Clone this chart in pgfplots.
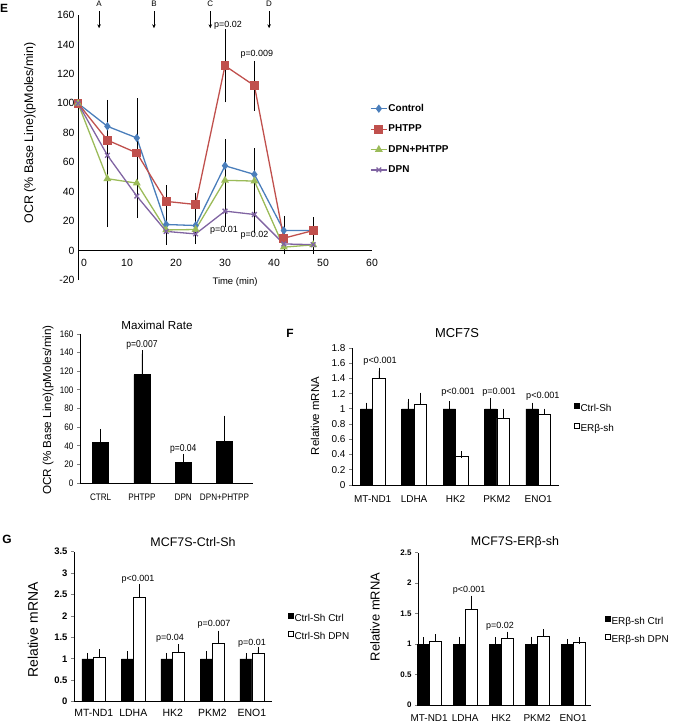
\documentclass[border=0pt]{standalone}
\usepackage{fontspec}
\setmainfont{Liberation Sans}
\newfontfamily\narrowfont[FakeStretch=0.86]{Liberation Sans}
\usepackage{pgfplots}
\pgfplotsset{compat=1.18}
\usetikzlibrary{arrows.meta}
\definecolor{cBlue}{RGB}{74,126,187}
\definecolor{cRed}{RGB}{192,80,77}
\definecolor{cGreen}{RGB}{155,187,89}
\definecolor{cPurple}{RGB}{128,100,162}
\pgfplotsset{/pgf/number format/assume math mode=true}
\newcommand{\fs}[1]{\fontsize{#1}{#1}\selectfont}
\pgfplotsset{
  ebar/.style={error bars/.cd, y dir=plus, y explicit,
    error bar style={black, line width=0.8pt},
    error mark options={black, line width=0.8pt, mark size=3.3bp}},
  eline/.style={error bars/.cd, y dir=both, y explicit,
    error bar style={black, line width=0.5pt},
    error mark options={black, line width=0.5pt, mark size=2.8bp}},
  barax/.style={anchor=south west, scale only axis, clip=false,
    axis x line*=bottom, axis y line*=left, ymin=0,
    tick align=outside, major tick length=3bp, xtick style={draw=none},
    axis line style={line width=0.8pt}, ytick style={line width=0.8pt},
    legend cell align=left,
    legend style={draw=none, fill=none, font=\fs{10}, row sep=6.5bp, inner sep=0pt, nodes={inner sep=1bp}}},
  sqleg/.style={legend image code/.code={\draw[##1, line width=0.4pt] (0bp,0.4bp) rectangle (5bp,5.4bp);}},
  blk/.style={fill=black, draw=black, line width=0.5pt},
  wht/.style={fill=white, draw=black, line width=0.8pt},
}
\begin{document}
\begin{tikzpicture}
\path[use as bounding box] (0,0) rectangle (675bp,-723bp);

% ---------------- Panel E ----------------
\begin{axis}[at={(78bp,-280bp)}, anchor=south west, scale only axis,
  width=294bp, height=265bp, xmin=0, xmax=60, ymin=-20, ymax=160,
  axis x line*=middle, axis y line*=left, clip=false,
  xtick={0,10,...,60}, ytick={-20,0,20,...,160},
  xticklabels={{\hspace*{12bp}0},10,20,30,40,50,60},
  hide obscured x ticks=false, hide obscured y ticks=false,
  tick style={draw=none}, tick label style={font=\fs{10.5}},
  xticklabel style={yshift=-5bp},
  axis line style={line width=0.9pt},
  legend cell align=left,
  legend image code/.code={\draw[mark repeat=2,mark phase=2,#1] plot coordinates {(0bp,0bp) (8bp,0bp) (16bp,0bp)};},
  legend style={at={(0.983,0.675)}, anchor=north west, draw=none, fill=none,
    font=\bfseries\fs{10}, row sep=10bp, nodes={inner sep=1bp}}]
\addplot[color=cBlue, line width=1.3pt, mark=diamond*, mark size=3.2bp, eline]
  coordinates {(0,100)+-(0,0) (6,84.4)+-(0,16) (12,76.5)+-(0,25) (18,17.7)+-(0,8) (24,17)+-(0,8) (30,57.6)+-(0,16) (36,51.7)+-(0,16) (42,13.6)+-(0,8) (48,13.6)+-(0,6)};
\addlegendentry{Control}
\addplot[color=cRed, line width=1.3pt, mark=square*, mark size=3.8bp, eline]
  coordinates {(0,100)+-(0,0) (6,75)+-(0,15) (12,66.3)+-(0,20) (18,33.4)+-(0,9) (24,31.3)+-(0,6) (30,125.5)+-(0,23) (36,112)+-(0,15) (42,8.4)+-(0,8) (48,13.6)+-(0,7)};
\addlegendentry{PHTPP}
\addplot[color=cGreen, line width=1.3pt, mark=triangle*, mark size=3.3bp, eline]
  coordinates {(0,100)+-(0,0) (6,48.8)+-(0,31) (12,45.8)+-(0,20) (18,14)+-(0,8) (24,14.3)+-(0,6) (30,47.7)+-(0,22) (36,47.2)+-(0,18) (42,2.3)+-(0,3) (48,3.9)+-(0,4)};
\addlegendentry{DPN+PHTPP}
\addplot[color=cPurple, line width=1.3pt, mark=x, mark size=3.3bp, eline]
  coordinates {(0,100)+-(0,0) (6,64.7)+-(0,22) (12,37)+-(0,13) (18,13)+-(0,7) (24,11.3)+-(0,5) (30,26.8)+-(0,9) (36,24.5)+-(0,11) (42,4.5)+-(0,3) (48,4)+-(0,4)};
\addlegendentry{DPN}
\draw[-{Stealth[length=4bp,width=3.5bp]}, line width=0.7pt] (axis cs:4.3,162.5) -- (axis cs:4.3,151);
\draw[-{Stealth[length=4bp,width=3.5bp]}, line width=0.7pt] (axis cs:15.5,162.5) -- (axis cs:15.5,151);
\draw[-{Stealth[length=4bp,width=3.5bp]}, line width=0.7pt] (axis cs:27,162.5) -- (axis cs:27,151);
\draw[-{Stealth[length=4bp,width=3.5bp]}, line width=0.7pt] (axis cs:39,162.5) -- (axis cs:39,151);
\node[font=\fs{8}] at (axis cs:4.3,167.3) {A};
\node[font=\fs{8}] at (axis cs:15.5,167.3) {B};
\node[font=\fs{8}] at (axis cs:27,167.3) {C};
\node[font=\fs{8}] at (axis cs:39,167.3) {D};
\node[font=\fs{9}] at (axis cs:30.6,153) {p=0.02};
\node[font=\fs{9}] at (axis cs:36.5,133) {p=0.009};
\node[font=\fs{9}] at (axis cs:29.8,14) {p=0.01};
\node[font=\fs{9}] at (axis cs:36,10.6) {p=0.02};
\end{axis}
\node[font=\bfseries\fs{12}] at (4bp,-8bp) {E};
\node[rotate=90, font=\fs{12.5}] at (30bp,-133bp) {OCR (\% Base Line)(pMoles/min)};
\node[font=\fs{9.5}] at (235bp,-282bp) {Time (min)};

% ---------------- Maximal Rate ----------------
\begin{axis}[barax, at={(80bp,-483bp)}, width=173bp, height=149bp,
  xmin=0.5, xmax=4.69, ymax=160, ytick={0,20,...,160},
  xtick={1,2,3,4}, xticklabels={CTRL,PHTPP,DPN,DPN+PHTPP},
  tick label style={font=\narrowfont\fs{9.5}}, xticklabel style={yshift=-4bp},
  ybar, bar width=16bp]
\addplot[blk, ebar] coordinates {(1,43.6)+-(0,11) (2,116.5)+-(0,22.5) (3,22.3)+-(0,5.5) (4,44.4)+-(0,24.5)};
\node[font=\narrowfont\fs{10}] at (axis cs:2,148) {p=0.007};
\node[font=\narrowfont\fs{10}] at (axis cs:3,36.5) {p=0.04};
\end{axis}
\node[font=\fs{11.7}] at (157bp,-325bp) {Maximal Rate};
\node[rotate=90, font=\fs{11.7}] at (48bp,-410bp) {OCR (\% Base Line)(pMoles/min)};

% ---------------- Panel F ----------------
\begin{axis}[barax, at={(352bp,-485bp)}, width=207bp, height=137bp,
  xmin=0.5, xmax=5.5, ymax=1.8, ytick={0,0.2,0.4,0.6,0.8,1,1.2,1.4,1.6,1.8},
  xtick={1,...,5}, xticklabels={MT-ND1,LDHA,HK2,PKM2,ENO1},
  tick label style={font=\fs{10}}, xticklabel style={yshift=-4bp},
  ybar=0pt, bar width=12.4bp, sqleg,
  legend style={at={(1.072,0.60)}, anchor=north west, row sep=9bp}]
\addplot[blk, ebar] coordinates {(1,1.0)+-(0,0.04) (2,1.0)+-(0,0.09) (3,1.0)+-(0,0.06) (4,1.0)+-(0,0.1) (5,1.0)+-(0,0.04)};
\addlegendentry{Ctrl-Sh}
\addplot[wht, ebar] coordinates {(1,1.4)+-(0,0.1) (2,1.06)+-(0,0.11) (3,0.37)+-(0,0.03) (4,0.88)+-(0,0.08) (5,0.93)+-(0,0.03)};
\addlegendentry{ERβ-sh}
\node[font=\fs{9.2}] at (axis cs:1.18,1.62) {p<0.001};
\node[font=\fs{9.2}] at (axis cs:3.06,1.22) {p<0.001};
\node[font=\fs{9.2}] at (axis cs:4.05,1.22) {p=0.001};
\node[font=\fs{9.2}] at (axis cs:5.11,1.16) {p<0.001};
\end{axis}
\node[font=\bfseries\fs{12}] at (290bp,-333bp) {F};
\node[font=\fs{13}] at (457bp,-333bp) {MCF7S};
\node[rotate=90, font=\fs{11.5}] at (315bp,-416bp) {Relative mRNA};

% ---------------- Panel G left ----------------
\begin{axis}[barax, at={(74bp,-701.7bp)}, width=197.7bp, height=150bp,
  xmin=0.5, xmax=5.5, ymax=3.5, ytick={0,0.5,1,1.5,2,2.5,3,3.5},
  xtick={1,...,5}, xticklabels={MT-ND1,LDHA,HK2,PKM2,ENO1},
  yticklabel style={font=\bfseries\fs{9.5}}, xticklabel style={font=\fs{10.5}, yshift=-1bp},
  ybar=0pt, bar width=12bp, sqleg,
  legend style={at={(1.082,0.59)}, anchor=north west}]
\addplot[blk, ebar] coordinates {(1,1.0)+-(0,0.06) (2,1.0)+-(0,0.1) (3,1.0)+-(0,0.06) (4,1.0)+-(0,0.11) (5,1.0)+-(0,0.05)};
\addlegendentry{Ctrl-Sh Ctrl}
\addplot[wht, ebar] coordinates {(1,1.04)+-(0,0.11) (2,2.43)+-(0,0.24) (3,1.14)+-(0,0.12) (4,1.37)+-(0,0.21) (5,1.12)+-(0,0.09)};
\addlegendentry{Ctrl-Sh DPN}
\node[font=\fs{9}] at (axis cs:2.12,2.86) {p<0.001};
\node[font=\fs{9}] at (axis cs:2.93,1.49) {p=0.04};
\node[font=\fs{9}] at (axis cs:4.04,1.81) {p=0.007};
\node[font=\fs{9}] at (axis cs:5.0,1.37) {p=0.01};
\end{axis}
\node[font=\bfseries\fs{12}] at (7bp,-539bp) {G};
\node[font=\fs{12.5}] at (193bp,-542bp) {MCF7S-Ctrl-Sh};
\node[rotate=90, font=\fs{14}] at (33bp,-630bp) {Relative mRNA};

% ---------------- Panel G right ----------------
\begin{axis}[barax, at={(418bp,-705bp)}, width=172.8bp, height=152.3bp,
  xmin=0.69, xmax=5.49, ymax=2.5, ytick={0,0.5,1,1.5,2,2.5},
  xtick={1,...,5}, xticklabels={MT-ND1,LDHA,HK2,PKM2,ENO1},
  yticklabel style={font=\bfseries\fs{8}}, xticklabel style={font=\fs{10}, yshift=-3bp},
  ybar=0pt, bar width=12bp, sqleg,
  legend style={at={(1.082,0.585)}, anchor=north west}]
\addplot[blk, ebar] coordinates {(1,1.0)+-(0,0.06) (2,1.0)+-(0,0.07) (3,1.0)+-(0,0.06) (4,1.0)+-(0,0.07) (5,1.0)+-(0,0.03)};
\addlegendentry{ERβ-sh Ctrl}
\addplot[wht, ebar] coordinates {(1,1.04)+-(0,0.07) (2,1.57)+-(0,0.17) (3,1.09)+-(0,0.06) (4,1.13)+-(0,0.06) (5,1.02)+-(0,0.04)};
\addlegendentry{ERβ-sh DPN}
\node[font=\fs{9}] at (axis cs:2.11,1.89) {p<0.001};
\node[font=\fs{9}] at (axis cs:2.97,1.29) {p=0.02};
\end{axis}
\node[font=\fs{12.5}] at (515bp,-542bp) {MCF7S-ERβ-sh};
\node[rotate=90, font=\fs{13}] at (375bp,-617bp) {Relative mRNA};
\end{tikzpicture}
\end{document}
